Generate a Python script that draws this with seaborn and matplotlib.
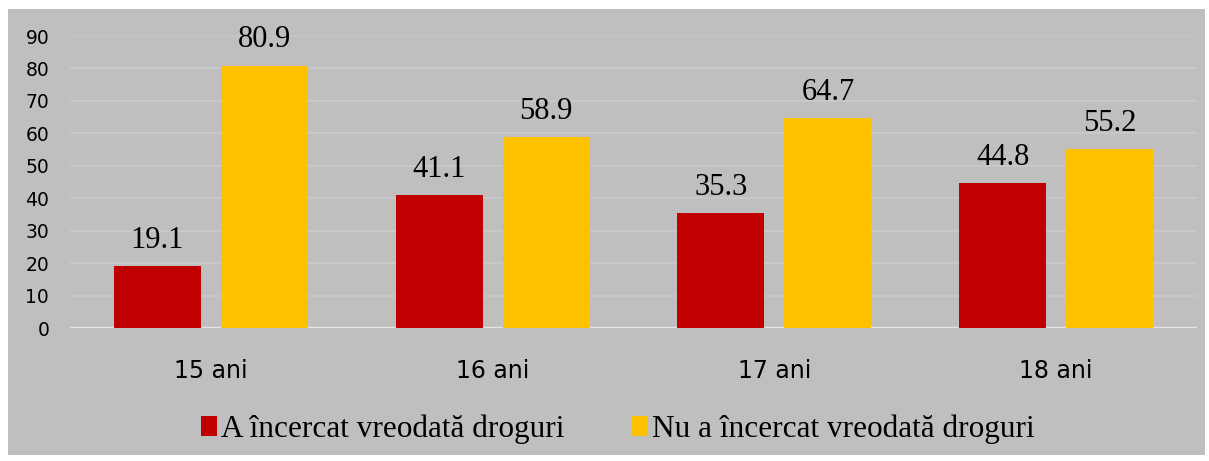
import matplotlib
matplotlib.use("Agg")
import matplotlib.pyplot as plt
import seaborn as sns
import pandas as pd
from matplotlib.patches import Rectangle

# data
categories = ["15 ani", "16 ani", "17 ani", "18 ani"]
tried = [19.1, 41.1, 35.3, 44.8]
never_tried = [80.9, 58.9, 64.7, 55.2]
series = ["A încercat vreodată droguri", "Nu a încercat vreodată droguri"]
yticks = [0, 10, 20, 30, 40, 50, 60, 70, 80, 90]

df = pd.DataFrame({
    "age": categories * 2,
    "val": tried + never_tried,
    "group": [series[0]] * len(categories) + [series[1]] * len(categories),
})

sns.set_theme(style="white")
W, H = 1209, 461
fig = plt.figure(figsize=(W / 100, H / 100), dpi=100)
fig.patch.set_facecolor("white")
# grey chart area
fig.patches.append(Rectangle((8 / W, 1 - 455 / H), (1205 - 8) / W, (455 - 9) / H,
                             transform=fig.transFigure, facecolor="#bfbfbf",
                             edgecolor="none", zorder=-5))

ax = fig.add_axes([70 / W, 1 - 328 / H, 1127 / W, 292 / H])
ax.set_facecolor("none")

sns.barplot(data=df, x="age", y="val", hue="group",
            palette=["#c00000", "#ffc000"], width=0.76, gap=0.187,
            saturation=1, ax=ax, errorbar=None, linewidth=0, edgecolor="none")

for cont in ax.containers:
    ax.bar_label(cont, fmt="%.1f", padding=8, fontsize=22,
                 family="Liberation Serif", color="black")

ax.set_ylim(0, 90)
ax.set_xlim(-0.5, 3.5)
ax.set_yticks(yticks)
ax.yaxis.grid(True, color="#c8c8c8", lw=1.5)
ax.set_axisbelow(True)
ax.axhline(0, color="#e4e4e4", lw=2.5, zorder=0.9)
for s in ax.spines.values():
    s.set_visible(False)
ax.set_xlabel("")
ax.set_ylabel("")
ax.tick_params(axis="y", length=0, pad=15, labelsize=13.5, labelcolor="black")
ax.tick_params(axis="x", length=0, pad=22, labelsize=17, labelcolor="black")

handles, labels = ax.get_legend_handles_labels()
ax.get_legend().remove()
leg = fig.legend(handles, labels, loc="center", bbox_to_anchor=(618 / W, 1 - 429 / H),
                 ncol=2, frameon=False,
                 prop={"family": "Liberation Serif", "size": 22.5},
                 handlelength=0.5, handleheight=0.6, handletextpad=0.15,
                 columnspacing=2.15)
for t in leg.get_texts():
    t.set_color("black")

fig.savefig("out.png", dpi=100, facecolor="white")
